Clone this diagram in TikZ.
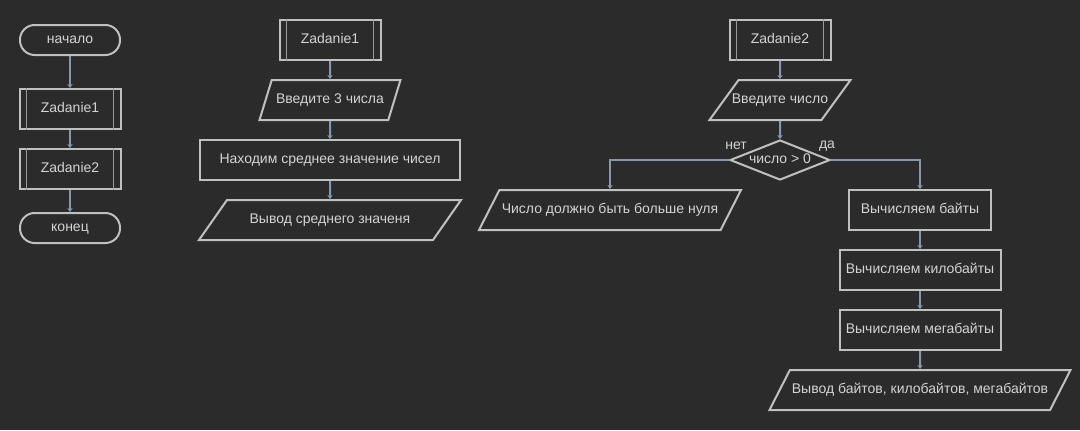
\documentclass[tikz,border=0pt]{standalone}
\usepackage{fontspec}
\setmainfont{Liberation Sans}
\usetikzlibrary{shapes.geometric,arrows.meta,positioning}
\definecolor{bgdark}{RGB}{43,43,43}
\definecolor{boxgray}{RGB}{192,192,192}
\definecolor{textgray}{RGB}{212,212,212}
\definecolor{arrowblue}{RGB}{136,152,170}

\begin{document}
\begin{tikzpicture}[x=0.75pt, y=-0.75pt,
  font=\fontsize{10.5}{12}\selectfont,
  base/.style={draw=boxgray, line width=1.5pt, text=textgray, inner sep=0pt, text height=7.5pt, text depth=2.2pt, minimum height=30pt},
  terminal/.style={base, rectangle, rounded corners=11pt, minimum width=75pt, minimum height=22.5pt},
  subproc/.style={base, rectangle, minimum width=75.75pt},
  process/.style={base, rectangle},
  io/.style 2 args={base, trapezium, trapezium stretches body, inner ysep=10.15pt, trapezium left angle=#1, trapezium right angle=#2},
  decision/.style={base, diamond, aspect=2.5, minimum width=75pt},
  branchtext/.style={text=textgray},
  arrow/.style={line width=1.5pt, draw=arrowblue, -{Stealth[length=3pt,width=4pt]}},
  inner/.style={draw=boxgray!75!bgdark, line width=1pt}
]
  \fill[bgdark] (0,0) rectangle (1080,430);

  % main program
  \node[terminal] (start) at (70,40) {начало};
  \node[subproc, below=24pt of start] (task1) {Zadanie1};
  \node[subproc, below=13.5pt of task1] (task2) {Zadanie2};
  \node[terminal, below=16.5pt of task2] (finish) {конец};

  % Zadanie1
  \node[subproc] (sub1) at (330,40) {Zadanie1};
  \node[io={73}{107}, minimum width=105.75pt, below=13.5pt of sub1] (read3) {Введите 3 числа};
  \node[process, minimum width=195pt, below=13.5pt of read3] (mean) {Находим среднее значение чисел};
  \node[io={55}{125}, minimum width=196.5pt, below=13.5pt of mean] (showmean) {Вывод среднего значеня};

  % Zadanie2
  \node[subproc] (sub2) at (780,40) {Zadanie2};
  \node[io={54}{126}, inner xsep=-5pt, minimum width=105.75pt, below=13.5pt of sub2] (readnum) {Введите число};
  \node[decision, below=13.5pt of readnum] (check) {число > 0};
  \node[branchtext] (no) at (736,146) {нет};
  \node[branchtext] (yes) at (827,146) {да};
  \node[io={63}{117}, minimum width=196.5pt] (error) at (610,210) {Число должно быть больше нуля};
  \node[process, minimum width=106.5pt] (bytes) at (920,210) {Вычисляем байты};
  \node[process, minimum width=120.75pt, below=13.5pt of bytes] (kbytes) {Вычисляем килобайты};
  \node[process, minimum width=120.75pt, below=13.5pt of kbytes] (mbytes) {Вычисляем мегабайты};
  \node[io={63}{117}, minimum width=225.75pt, below=13.5pt of mbytes] (showall) {Вывод байтов, килобайтов, мегабайтов};

  % side bars of the subroutine blocks
  \foreach \n in {task1,task2,sub1,sub2} {
    \draw[inner] ([xshift=6pt]\n.north west) -- ([xshift=6pt]\n.south west);
    \draw[inner] ([xshift=-6pt]\n.north east) -- ([xshift=-6pt]\n.south east);
  }

  \draw[arrow] (start) -- (task1);
  \draw[arrow] (task1) -- (task2);
  \draw[arrow] (task2) -- (finish);

  \draw[arrow] (sub1) -- (read3);
  \draw[arrow] (read3) -- (mean);
  \draw[arrow] (mean) -- (showmean);

  \draw[arrow] (sub2) -- (readnum);
  \draw[arrow] (readnum) -- (check);
  \draw[arrow] (check.west) -| (error);
  \draw[arrow] (check.east) -| (bytes);
  \draw[arrow] (bytes) -- (kbytes);
  \draw[arrow] (kbytes) -- (mbytes);
  \draw[arrow] (mbytes) -- (showall);
\end{tikzpicture}
\end{document}
